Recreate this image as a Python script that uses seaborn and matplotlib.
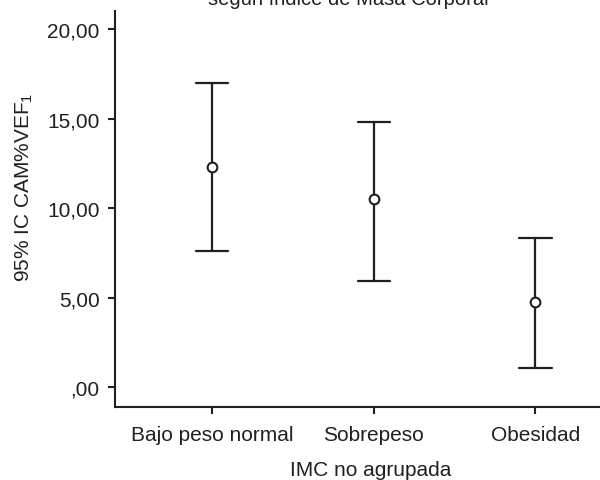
import pandas as pd
import matplotlib
matplotlib.use("Agg")
import matplotlib.pyplot as plt
import seaborn as sns

# Values (95% CI of CAM%VEF1 by BMI group)
groups = ["Bajo peso normal", "Sobrepeso", "Obesidad"]
means = [12.28, 10.53, 4.74]
ci_low = [7.60, 5.91, 1.08]
ci_high = [16.96, 14.80, 8.32]
y_ticks = [0, 5, 10, 15, 20]
y_tick_labels = [",00", "5,00", "10,00", "15,00", "20,00"]

# long form: low / mean / high per group -> median = mean, 100% interval = CI
rows = []
for g, lo, m, hi in zip(groups, ci_low, means, ci_high):
    for v in (lo, m, hi):
        rows.append({"grupo": g, "valor": v})
df = pd.DataFrame(rows)

sns.set_theme(style="white")
plt.rcParams["font.family"] = ["Liberation Sans", "DejaVu Sans"]
plt.rcParams["mathtext.fontset"] = "custom"
plt.rcParams["mathtext.rm"] = "Liberation Sans"
plt.rcParams["mathtext.it"] = "Liberation Sans"
ink = "#231f20"

fig = plt.figure(figsize=(6, 4.81), dpi=100)
ax = fig.add_axes([0.1917, 0.1518, 0.8083, 0.8232])

sns.pointplot(data=df, x="grupo", y="valor", order=groups, estimator="median",
              errorbar=("pi", 100), capsize=0.2, color=ink, linestyle="none",
              marker="o", markersize=7, markerfacecolor="white", markeredgecolor=ink,
              markeredgewidth=1.5, err_kws={"linewidth": 1.6}, ax=ax)
for ln in ax.lines:
    if ln.get_marker() == "o":
        ln.set_zorder(5)

ax.set_xlim(-0.6, 2.4)
ax.set_ylim(-1.1, 21.0)
ax.set_yticks(y_ticks)
ax.set_yticklabels(y_tick_labels)

for side in ["top", "right"]:
    ax.spines[side].set_visible(False)
for side in ["left", "bottom"]:
    ax.spines[side].set_color(ink)
    ax.spines[side].set_linewidth(1.5)
ax.tick_params(axis="both", direction="out", length=5, width=1.5, color=ink,
               labelsize=15, labelcolor=ink, pad=6, bottom=True, left=True)
ax.tick_params(axis="x", pad=8)

ax.set_xlabel("IMC no agrupada", fontsize=15, color=ink)
ax.set_ylabel("95% IC CAM%VEF$_1$", fontsize=15, color=ink)
ax.xaxis.set_label_coords(0.528, -0.134)
ax.yaxis.set_label_coords(-0.165, 0.558)

# title is cut off by the top edge in the reference
fig.text(0.58, 0.9896, "según índice de Masa Corporal", fontsize=14.5, color=ink,
         ha="center", va="baseline")

plt.savefig("out.png", dpi=100)
plt.close()
